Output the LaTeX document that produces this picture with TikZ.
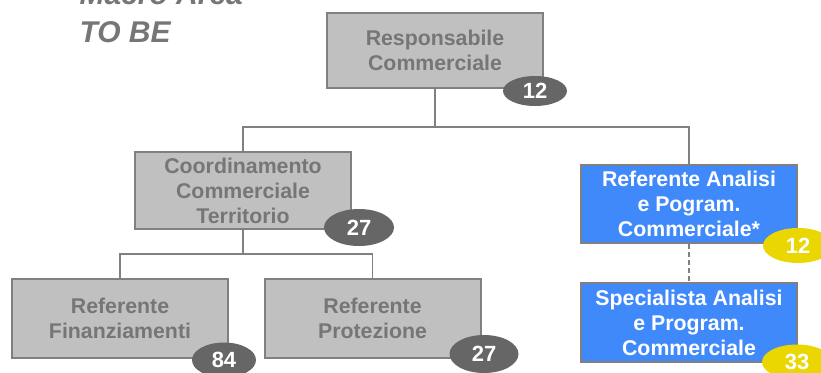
\documentclass[tikz,border=0pt]{standalone}
\usepackage{fontspec}
\setmainfont{Liberation Sans}
\usetikzlibrary{positioning,calc,shapes.geometric}
\definecolor{boxgray}{RGB}{192,192,192}
\definecolor{boxline}{RGB}{128,128,128}
\definecolor{txtgray}{RGB}{118,118,118}
\definecolor{badgray}{RGB}{102,102,102}
\definecolor{boxblue}{RGB}{64,137,250}
\definecolor{badyel}{RGB}{234,214,0}
\tikzset{
  unit/.style={draw=boxline, line width=2pt, minimum width=216, minimum height=77,
    inner sep=0pt, align=center, font=\fontsize{21.3}{25}\selectfont\bfseries},
  gbox/.style={unit, fill=boxgray, text=txtgray},
  bbox/.style={unit, fill=boxblue, text=white},
  badge/.style={ellipse, minimum width=68, minimum height=35, inner sep=0pt,
    text=white, font=\fontsize{22}{22}\selectfont\bfseries},
  gbad/.style={badge, fill=badgray},
  ybad/.style={badge, fill=badyel},
  conn/.style={draw=boxline, line width=1.5pt},
  ttl/.style={anchor=base west, text=txtgray, font=\fontsize{30}{30}\selectfont\bfseries\itshape},
}

\begin{document}
\begin{tikzpicture}[x=1pt,y=-1pt]
\useasboundingbox (0,0) rectangle (821,372);
\clip (0,0) rectangle (821,372);
% title
\node[ttl] (ttlA) at (76,5) {Macro Area};
\node[ttl] (ttlB) at (76,42) {TO BE};
% boxes
\node[gbox, minimum height=75] (resp) at (435,50.5) {Responsabile\\Commerciale};
\node[gbox] (coord) at (243,190.5) {Coordinamento\\Commerciale\\Territorio};
\node[bbox, minimum height=78] (anal) at (689,204) {Referente Analisi\\e Pogram.\\Commerciale*};
\node[bbox, minimum height=79] (spec) at (689,322.5) {Specialista Analisi\\e Program.\\Commerciale};
\node[gbox, minimum height=79] (fin) at (120,318.5) {Referente\\Finanziamenti};
\node[gbox, minimum height=79] (prot) at (372.5,318.5) {Referente\\Protezione};
% connectors
\coordinate (j1) at (435,127);
\coordinate (j2) at (243,254);
\draw[conn] (resp.south) -- (j1);
\draw[conn] (coord.north) |- (j1) -| (anal.north);
\draw[conn, line width=1.2pt, dash pattern=on 5pt off 3pt] (anal.south) -- (spec.north);
\draw[conn] (coord.south) -- (j2);
\draw[conn] (fin.north) |- (j2) -| (prot.north);
% head counts
\node[gbad, minimum width=64, minimum height=30] (nResp) at (535,91) {12};
\node[gbad, minimum width=70, minimum height=37] (nCoord) at (359,227.5) {27};
\node[ybad, minimum width=70] (nAnal) at (798,245.5) {12};
\node[ybad, minimum width=70] (nSpec) at (797,362) {33};
\node[gbad, minimum width=64] (nFin) at (224,360) {84};
\node[gbad, minimum width=69, minimum height=38] (nProt) at (484,354) {27};
\end{tikzpicture}
\end{document}
